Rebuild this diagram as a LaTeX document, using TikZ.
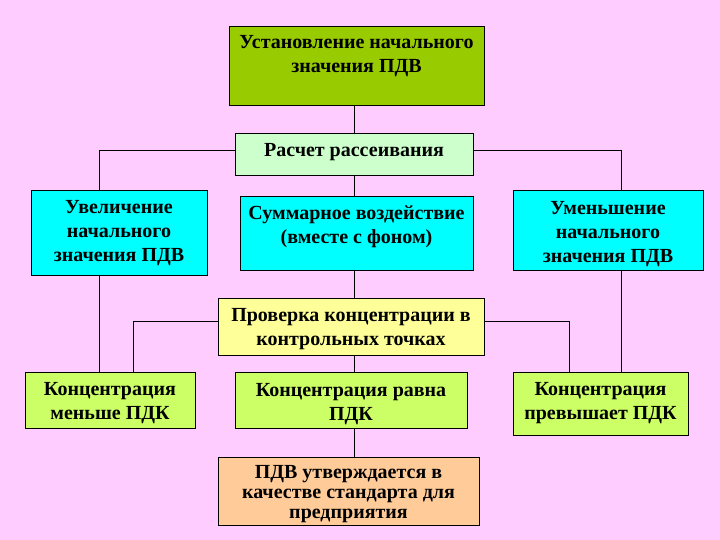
\documentclass[tikz,border=0pt]{standalone}
\usepackage{fontspec}
\setmainfont{Liberation Serif}
\definecolor{bgpink}{HTML}{FFCCFF}
\definecolor{olive}{HTML}{99CC00}
\definecolor{mint}{HTML}{CCFFCC}
\definecolor{aqua}{HTML}{00FFFF}
\definecolor{lemon}{HTML}{FFFF99}
\definecolor{lime}{HTML}{CCFF66}
\definecolor{peach}{HTML}{FFCC99}
\newcommand\tH[1]{\rule{0pt}{#1pt}}
\newcommand\tD[1]{\rule[-#1pt]{0pt}{#1pt}}
\begin{document}
\begin{tikzpicture}[x=1pt,y=-1pt,
  box/.style={draw=black, line width=0.8pt, rectangle, align=center, inner sep=0pt,
    font=\fontsize{20}{24}\selectfont\bfseries},
  link/.style={draw=black, line width=0.9pt}]
\fill[bgpink] (0,0) rectangle (720,540);
\useasboundingbox (0,0) rectangle (720,540);
\node[box, fill=olive, minimum width=255pt, minimum height=79pt] (top) at (356.5,65.5)
  {\tH{15}Установление начального\\значения ПДВ\tD{25.4}};
\node[box, fill=mint, minimum width=238pt, minimum height=42pt] (calc) at (354,154)
  {\tH{15}Расчет рассеивания\tD{9.6}};
\node[box, fill=aqua, minimum width=176pt, minimum height=85pt] (incL) at (119,232.5)
  {\tH{15}Увеличение\\начального\\значения ПДВ\tD{5.4}};
\node[box, fill=aqua, minimum width=233pt, minimum height=74pt] (sum) at (356.5,233)
  {\tH{15}Суммарное воздействие\\(вместе с фоном)\tD{18.4}};
\node[box, fill=aqua, minimum width=190pt, minimum height=80pt] (decR) at (608,230)
  {\tH{21.6}Уменьшение\\начального\\значения ПДВ\tD{5}};
\node[box, fill=lemon, minimum width=266pt, minimum height=57pt] (check) at (351,326.5)
  {\tH{19.4}Проверка концентрации в\\контрольных точках\tD{5}};
\node[box, fill=lime, minimum width=170pt, minimum height=56pt] (less) at (110,400.3)
  {\tH{18.4}Концентрация\\меньше ПДК\tD{5}};
\node[box, fill=lime, minimum width=232pt, minimum height=56pt] (eq) at (351,400)
  {\tH{22.4}Концентрация равна\\ПДК\tD{5}};
\node[box, fill=lime, minimum width=175pt, minimum height=63pt] (more) at (600.5,403.5)
  {\tH{15}Концентрация\\превышает ПДК\tD{8}};
\node[box, fill=peach, minimum width=261pt, minimum height=68pt,
  font=\fontsize{20}{20}\selectfont\bfseries] (pdv) at (348.5,491)
  {\tH{19.6}ПДВ утверждается в\\качестве стандарта для\\предприятия\tD{5}};
% connectors
\draw[link] (top.south -| calc.north) -- (calc.north);
\draw[link] ([yshift=4pt]calc.west) -| ([xshift=-19.4pt]incL.north);
\draw[link] ([yshift=4pt]calc.east) -| ([xshift=13pt]decR.north);
\draw[link] (calc.south) -- (calc.south |- sum.north);
\draw[link] (sum.south -| calc.south) -- (check.north -| calc.south);
\draw[link] ([xshift=-19.4pt]incL.south) -- ([xshift=-10.4pt]less.north);
\draw[link] ([xshift=13pt]decR.south) -- ([xshift=20.5pt]more.north);
\draw[link] ([yshift=5.5pt]check.west) -| ([xshift=23.6pt]less.north);
\draw[link] ([yshift=5.5pt]check.east) -| ([xshift=-31.5pt]more.north);
\draw[link] (check.south -| calc.south) -- (eq.north -| calc.south);
\draw[link] (eq.south -| calc.south) -- (pdv.north -| calc.south);
\end{tikzpicture}
\end{document}
